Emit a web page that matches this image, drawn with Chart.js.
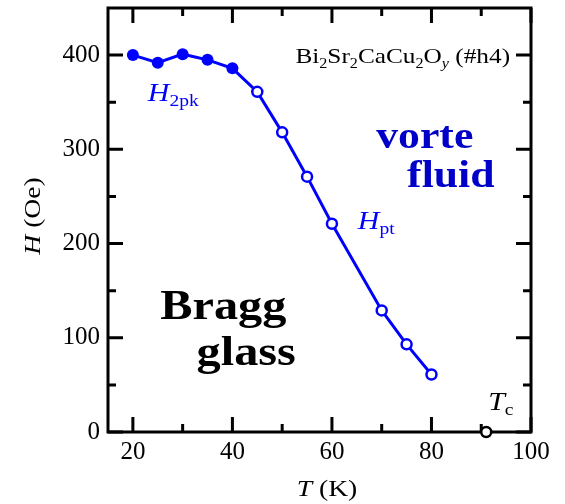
<!DOCTYPE html>
<html lang="en">
<head>
    <meta charset="UTF-8">
    <title>Bi2Sr2CaCu2Oy vortex phase diagram</title>
    <script src="https://cdn.jsdelivr.net/npm/chart.js"></script>
    <style>
        html, body { margin: 0; padding: 0; background: #fff; }
        canvas { display: block; }
    </style>
</head>
<body>
    <canvas id="phaseChart" width="565" height="504"></canvas>

    <script>
        // Second peak line (filled) and melting transition (open), T in K, H in Oe
        const peakTemps = [20, 25, 30, 35, 40];
        const peakFields = [400, 392, 401, 395, 386];
        const meltTemps = [45, 50, 55, 60, 70, 75, 80];
        const meltFields = [361, 318, 271, 221, 129, 93, 61];
        const tcTemp = [91];
        const tcField = [0];

        const xTicks = [20, 40, 60, 80, 100];
        const xMinor = [30, 50, 70, 90];
        const yTicks = [0, 100, 200, 300, 400];
        const yMinor = [50, 150, 250, 350];

        const BLUE = '#0000ff';
        const SERIF = "'Liberation Serif', 'Times New Roman', serif";
        const STRETCH = 1.15;

        // draws a run of text pieces (sub/superscripts) with a horizontal stretch
        function drawRich(ctx, parts, x, y, color, align) {
            ctx.save();
            ctx.fillStyle = color;
            ctx.textBaseline = 'alphabetic';
            ctx.textAlign = 'left';
            let total = 0;
            parts.forEach(p => {
                ctx.font = p.font;
                total += ctx.measureText(p.t).width;
            });
            let start = align === 'right' ? x - total * STRETCH : (align === 'center' ? x - total * STRETCH / 2 : x);
            ctx.translate(start, y);
            ctx.scale(STRETCH, 1);
            let cx = 0;
            parts.forEach(p => {
                ctx.font = p.font;
                ctx.fillText(p.t, cx, p.dy || 0);
                cx += ctx.measureText(p.t).width;
            });
            ctx.restore();
        }

        const frame = {
            id: 'frame',
            beforeDatasetsDraw(chart) {
                const { ctx, chartArea: a, scales: { x, y } } = chart;
                ctx.save();
                ctx.strokeStyle = '#000';
                ctx.lineWidth = 3;
                ctx.lineCap = 'butt';
                ctx.strokeRect(a.left, a.top, a.right - a.left, a.bottom - a.top);
                ctx.beginPath();
                const tickX = (v, len) => {
                    const px = x.getPixelForValue(v);
                    ctx.moveTo(px, a.bottom); ctx.lineTo(px, a.bottom - len);
                    ctx.moveTo(px, a.top); ctx.lineTo(px, a.top + len);
                };
                const tickY = (v, len) => {
                    const py = y.getPixelForValue(v);
                    ctx.moveTo(a.left, py); ctx.lineTo(a.left + len, py);
                    ctx.moveTo(a.right, py); ctx.lineTo(a.right - len, py);
                };
                xTicks.forEach(v => tickX(v, 15));
                xMinor.forEach(v => tickX(v, 8));
                yTicks.forEach(v => tickY(v, 15));
                yMinor.forEach(v => tickY(v, 8));
                ctx.stroke();
                ctx.restore();
            },
            afterDraw(chart) {
                const { ctx, scales: { x, y } } = chart;
                const px = v => x.getPixelForValue(v);
                const py = v => y.getPixelForValue(v);

                // axis titles
                drawRich(ctx, [
                    { t: 'T', font: `italic 24px ${SERIF}` },
                    { t: ' (K)', font: `24px ${SERIF}` }
                ], 327, 496, '#000', 'center');
                ctx.save();
                ctx.translate(40, 216);
                ctx.rotate(-Math.PI / 2);
                drawRich(ctx, [
                    { t: 'H', font: `italic 24px ${SERIF}` },
                    { t: ' (Oe)', font: `24px ${SERIF}` }
                ], 0, 0, '#000', 'center');
                ctx.restore();

                // sample name
                const sub = `14px ${SERIF}`;
                const main = `22px ${SERIF}`;
                drawRich(ctx, [
                    { t: 'Bi', font: main }, { t: '2', font: sub, dy: 5 },
                    { t: 'Sr', font: main }, { t: '2', font: sub, dy: 5 },
                    { t: 'CaCu', font: main }, { t: '2', font: sub, dy: 5 },
                    { t: 'O', font: main }, { t: 'y', font: `italic 14px ${SERIF}`, dy: 5 },
                    { t: ' (#h4)', font: main }
                ], px(95.8), py(392), '#000', 'right');

                // line labels
                drawRich(ctx, [
                    { t: 'H', font: `italic 26px ${SERIF}` },
                    { t: '2pk', font: `17px ${SERIF}`, dy: 5 }
                ], px(23.0), py(351), BLUE, 'left');
                drawRich(ctx, [
                    { t: 'H', font: `italic 26px ${SERIF}` },
                    { t: 'pt', font: `17px ${SERIF}`, dy: 5 }
                ], px(65.2), py(215), BLUE, 'left');
                drawRich(ctx, [
                    { t: 'T', font: `italic 26px ${SERIF}` },
                    { t: 'c', font: `17px ${SERIF}`, dy: 5 }
                ], px(91.4), py(23), '#000', 'left');

                // phase regions
                const blueBold = `bold 38px ${SERIF}`;
                const blackBold = `bold 42px ${SERIF}`;
                drawRich(ctx, [{ t: 'vorte', font: blueBold }], px(68.9), py(301), '#0000c8', 'left');
                drawRich(ctx, [{ t: 'fluid', font: blueBold }], px(75.1), py(260), '#0000c8', 'left');
                drawRich(ctx, [{ t: 'Bragg', font: blackBold }], px(25.5), py(120), '#000', 'left');
                drawRich(ctx, [{ t: 'glass', font: blackBold }], px(32.8), py(71), '#000', 'left');
            }
        };

        const lineTemps = peakTemps.concat(meltTemps);
        const lineFields = peakFields.concat(meltFields);
        const isPeak = lineTemps.map((t, i) => i < peakTemps.length);

        new Chart(document.getElementById('phaseChart'), {
            type: 'scatter',
            data: {
                datasets: [{
                    data: lineTemps.map((t, i) => ({ x: t, y: lineFields[i] })),
                    showLine: true,
                    borderColor: BLUE,
                    borderWidth: 3,
                    pointRadius: isPeak.map(p => p ? 6 : 5),
                    pointBackgroundColor: isPeak.map(p => p ? BLUE : '#fff'),
                    pointBorderColor: BLUE,
                    pointBorderWidth: isPeak.map(p => p ? 0 : 2.5),
                    tension: 0
                }, {
                    data: tcTemp.map((t, i) => ({ x: t, y: tcField[i] })),
                    pointRadius: 5,
                    pointBackgroundColor: '#fff',
                    pointBorderColor: '#000',
                    pointBorderWidth: 2.5,
                    clip: false
                }]
            },
            options: {
                responsive: false,
                animation: false,
                layout: { padding: { left: 0, top: 8, right: 34, bottom: 0 } },
                plugins: { legend: { display: false }, tooltip: { enabled: false } },
                scales: {
                    x: {
                        type: 'linear',
                        min: 15,
                        max: 100,
                        afterBuildTicks: s => { s.ticks = xTicks.map(v => ({ value: v })); },
                        afterFit: s => {
                            s.height = 72;
                            s.paddingLeft = 0;
                            s.paddingRight = 0;
                        },
                        grid: { display: false, drawTicks: false },
                        border: { display: false },
                        ticks: {
                            color: '#000',
                            padding: 5,
                            maxRotation: 0,
                            font: { family: SERIF, size: 25 }
                        }
                    },
                    y: {
                        min: 0,
                        max: 450,
                        afterBuildTicks: s => { s.ticks = yTicks.map(v => ({ value: v })); },
                        afterFit: s => {
                            s.width = 108;
                            s.paddingTop = 0;
                            s.paddingBottom = 0;
                        },
                        grid: { display: false, drawTicks: false },
                        border: { display: false },
                        ticks: {
                            color: '#000',
                            padding: 8,
                            font: { family: SERIF, size: 25 }
                        }
                    }
                }
            },
            plugins: [frame]
        });
    </script>
</body>
</html>
